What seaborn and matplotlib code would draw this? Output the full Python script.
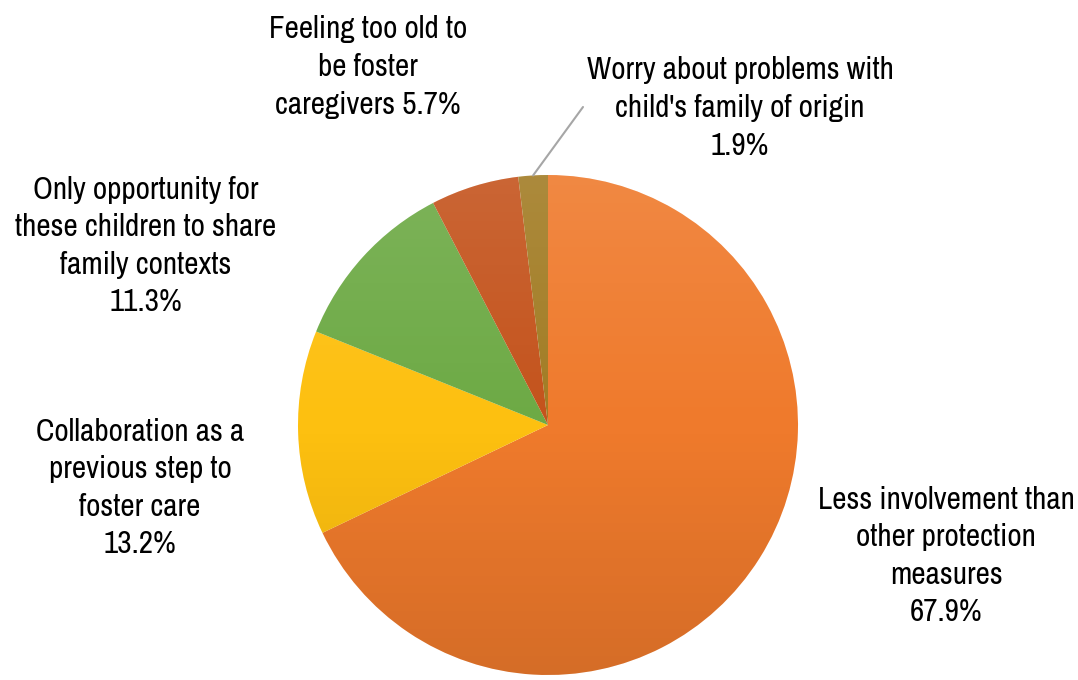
import numpy as np
import matplotlib
matplotlib.use("Agg")
import matplotlib.pyplot as plt
from matplotlib.patches import Circle
import seaborn as sns

# Reasons given, in clockwise order from 12 o'clock
categories = [
    "Less involvement than\nother protection\nmeasures",
    "Collaboration as a\nprevious step to\nfoster care",
    "Only opportunity for\nthese children to share\nfamily contexts",
    "Feeling too old to\nbe foster\ncaregivers",
    "Worry about problems with\nchild's family of origin",
]
shares = [67.9, 13.2, 11.3, 5.7, 1.9]
colors = ["#EF7A2C", "#FDC010", "#6DAA45", "#C4531C", "#A27C24"]

sns.set_theme(style="white")
plt.rcParams["font.family"] = ["Archivo Narrow", "DejaVu Sans"]

W, H = 1078, 680
fig = plt.figure(figsize=(W / 100, H / 100), dpi=100)
ax = fig.add_axes([0, 0, 1, 1])

cx, cy, r = 548, H - 425, 250
wedges, _ = ax.pie(shares, colors=colors, startangle=90, counterclock=False,
                   center=(cx, cy), radius=r, frame=True,
                   wedgeprops=dict(linewidth=0))
ax.set_xlim(0, W)
ax.set_ylim(0, H)
ax.set_aspect("equal")
ax.axis("off")

# soft vertical shading over the whole pie: lighter on top, deeper below
grad = np.zeros((256, 1, 4))
t = np.linspace(0, 1, 256)
grad[:, 0, :3] = np.where(t[:, None] > 0.5, 1.0, 0.0)
grad[:, 0, 3] = np.abs(t - 0.5) * 0.22
im = ax.imshow(grad, extent=(cx - r, cx + r, cy - r, cy + r), origin="lower",
               aspect="auto", zorder=3)
im.set_clip_path(Circle((cx, cy), r, transform=ax.transData))

fs = 22.5
pcts = [f"{v:.1f}%" for v in shares]

def label(x, y, text):
    ax.text(x, H - y, text, ha="center", va="center", fontsize=fs,
            color="black", linespacing=1.42, zorder=5)

label(946, 556, categories[0] + "\n" + pcts[0])
label(140, 488, categories[1] + "\n" + pcts[1])
label(146, 246, categories[2] + "\n" + pcts[2])
label(368, 67, categories[3] + " " + pcts[3])
label(740, 108, categories[4] + "\n" + pcts[4])

# leader line for the smallest slice
cum = np.cumsum(shares)
mid = 90 - 360 * (cum[-1] - shares[-1] / 2) / cum[-1]
sx = cx + r * np.cos(np.radians(mid))
sy = cy + r * np.sin(np.radians(mid))
ax.plot([sx, 583], [sy, H - 107], color="#A6A6A6", lw=1.5, zorder=4)

fig.savefig("out.png", dpi=100)
